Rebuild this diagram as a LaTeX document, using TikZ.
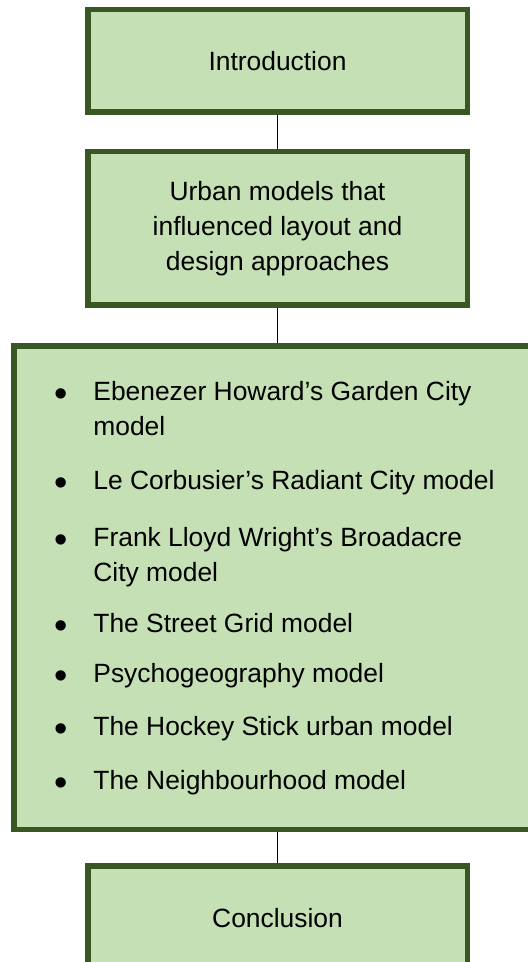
\documentclass[tikz,border=0pt]{standalone}
\usepackage{fontspec}
\setmainfont{Liberation Sans}
\definecolor{boxfill}{HTML}{C5E0B4}
\definecolor{boxline}{HTML}{385723}
\begin{document}
\begin{tikzpicture}[x=0.5pt,y=-0.5pt,
  box/.style={draw=boxline, fill=boxfill, line width=2.75pt, minimum width=189.75pt, inner sep=0pt, align=center, font=\fontsize{13.2pt}{17.5pt}\selectfont},
  txt/.style={font=\fontsize{13.2pt}{17.5pt}\selectfont, inner sep=0pt, align=left},
  bul/.style={font=\fontsize{19pt}{20pt}\selectfont, inner sep=0pt, yshift=-3pt},
  link/.style={draw=black, line width=0.7pt}]
\useasboundingbox (0,0) rectangle (528,962);
\clip (0,0) rectangle (528,962);
\node[box, minimum height=51.25pt] (intro) at (277.5,61) {Introduction};
\node[box, minimum height=76.75pt] (urban) at (277.5,228.5) {Urban models that\\influenced layout and\\design approaches};
\node[box, minimum width=265.6pt, minimum height=241.75pt] (models) at (279.4,587.5) {};
\node[box, minimum height=67.1pt] (concl) at (277.5,932.9) {};
\node[txt, anchor=base] (concltext) at (277.5,927) {Conclusion};
\draw[link] (intro.south) -- (urban.north);
\draw[link] (urban.south) -- (urban.south |- models.north);
\draw[link] (concl.north) -- (concl.north |- models.south);
\node[bul] (b1) at (61,392) {•};
\node[txt, anchor=base west] (i1) at (93,435) {Ebenezer Howard’s Garden City\\model};
\node[bul] (b2) at (61,481) {•};
\node[txt, anchor=base west] (i2) at (93,489) {Le Corbusier’s Radiant City model};
\node[bul] (b3) at (61,538) {•};
\node[txt, anchor=base west] (i3) at (93,581) {Frank Lloyd Wright’s Broadacre\\City model};
\node[bul] (b4) at (61,624) {•};
\node[txt, anchor=base west] (i4) at (93,632) {The Street Grid model};
\node[bul] (b5) at (61,674) {•};
\node[txt, anchor=base west] (i5) at (93,682) {Psychogeography model};
\node[bul] (b6) at (61,727) {•};
\node[txt, anchor=base west] (i6) at (93,735) {The Hockey Stick urban model};
\node[bul] (b7) at (61,781) {•};
\node[txt, anchor=base west] (i7) at (93,789) {The Neighbourhood model};
\end{tikzpicture}
\end{document}
